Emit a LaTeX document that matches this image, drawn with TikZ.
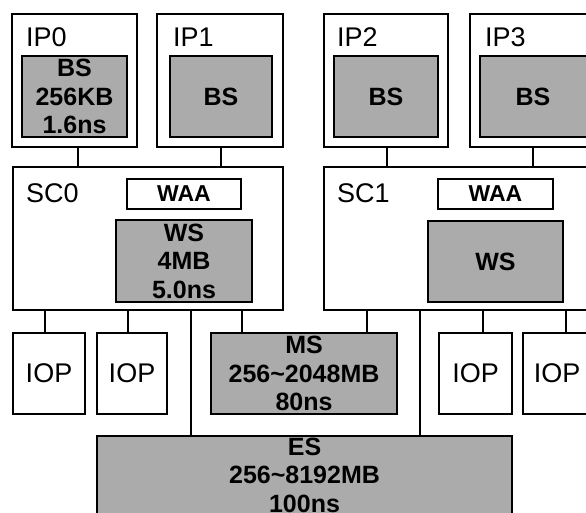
\documentclass[tikz,border=0pt]{standalone}
\usepackage{fontspec}
\setmainfont{Liberation Sans}
\newcommand{\boxat}[6]{\node[#1, minimum width={#5pt-#3pt}, minimum height={#6pt-#4pt}] (#2) at ({(#3+#5)/2},{(#4+#6)/2}) {};}
\begin{document}
\begin{tikzpicture}[x=1pt,y=-1pt,
  frame/.style={draw, line width=2.8pt, fill=white, inner sep=0pt},
  mem/.style={draw, line width=2.8pt, fill=black!33, inner sep=0pt},
  memtext/.style={align=center, inner sep=0pt, font=\fontsize{25}{28.5}\selectfont\bfseries},
  waatext/.style={inner sep=0pt, font=\fontsize{23}{26}\selectfont\bfseries},
  link/.style={line width=2.2pt},
  lbl/.style={font=\fontsize{27}{30}\selectfont, anchor=base west, inner sep=0pt},
  ioptext/.style={font=\fontsize{27}{30}\selectfont, inner sep=0pt}]
\useasboundingbox (0,0) rectangle (586,513);
\clip (0,0) rectangle (586,513);
% processors
\boxat{frame}{IP0}{12}{14}{137}{147}
\boxat{mem}{BS0}{22}{56}{127}{137}
\boxat{frame}{IP1}{157}{14}{283}{147}
\boxat{mem}{BS1}{170}{56}{272}{137}
\boxat{frame}{IP2}{324}{14}{448}{147}
\boxat{mem}{BS2}{334}{56}{438}{137}
\boxat{frame}{IP3}{470}{14}{600}{147}
\boxat{mem}{BS3}{480}{56}{592}{137}
\node[lbl] (tIP0) at (26,47) {IP0};
\node[lbl] (tIP1) at (173,47) {IP1};
\node[lbl] (tIP2) at (337,47) {IP2};
\node[lbl] (tIP3) at (485,47) {IP3};
\node[memtext] (tBS0) at (BS0.center) {BS\\256KB\\1.6ns};
\node[memtext] (tBS1) at (BS1.center) {BS};
\node[memtext] (tBS2) at (BS2.center) {BS};
\node[memtext] (tBS3) at (533,96.5) {BS};
% system controllers
\boxat{frame}{SC0}{13}{167}{283}{310}
\boxat{frame}{WAA0}{127}{179}{241}{209}
\boxat{mem}{WS0}{116}{220}{252}{302}
\boxat{frame}{SC1}{324}{167}{600}{310}
\boxat{frame}{WAA1}{438}{179}{553}{209}
\boxat{mem}{WS1}{428}{221}{563}{302}
\node[lbl] (tSC0) at (26,203) {SC0};
\node[lbl] (tSC1) at (337,203) {SC1};
\node[waatext] (tWAA0) at (WAA0.center) {WAA};
\node[waatext] (tWAA1) at (WAA1.center) {WAA};
\node[memtext] (tWS0) at (WS0.center) {WS\\4MB\\5.0ns};
\node[memtext] (tWS1) at (WS1.center) {WS};
% lower level
\boxat{frame}{IOP1}{13}{333}{85}{414}
\boxat{frame}{IOP2}{97}{333}{167}{414}
\boxat{mem}{MS}{211}{333}{397}{414}
\boxat{frame}{IOP3}{439}{333}{512}{414}
\boxat{frame}{IOP4}{523}{333}{600}{414}
\boxat{mem}{ES}{97}{436}{512}{518}
\node[ioptext] (tIOP1) at (IOP1.center) {IOP};
\node[ioptext] (tIOP2) at (IOP2.center) {IOP};
\node[ioptext] (tIOP3) at (IOP3.center) {IOP};
\node[ioptext] (tIOP4) at (557,373.5) {IOP};
\node[memtext] (tMS) at (MS.center) {MS\\256\textasciitilde2048MB\\80ns};
\node[memtext] (tES) at (304.5,475) {ES\\256\textasciitilde8192MB\\100ns};
% connector x positions
\coordinate (x78) at (78,0);
\coordinate (x221) at (221,0);
\coordinate (x387) at (387,0);
\coordinate (x533) at (533,0);
\coordinate (x45) at (45,0);
\coordinate (x128) at (128,0);
\coordinate (x191) at (191,0);
\coordinate (x242) at (242,0);
\coordinate (x367) at (367,0);
\coordinate (x420) at (420,0);
\coordinate (x483) at (483,0);
\coordinate (x566) at (566,0);
\draw[link] (IP0.south -| x78) -- (SC0.north -| x78);
\draw[link] (IP1.south -| x221) -- (SC0.north -| x221);
\draw[link] (IP2.south -| x387) -- (SC1.north -| x387);
\draw[link] (IP3.south -| x533) -- (SC1.north -| x533);
\draw[link] (SC0.south -| x45) -- (IOP1.north -| x45);
\draw[link] (SC0.south -| x128) -- (IOP2.north -| x128);
\draw[link] (SC0.south -| x191) -- (ES.north -| x191);
\draw[link] (SC0.south -| x242) -- (MS.north -| x242);
\draw[link] (SC1.south -| x367) -- (MS.north -| x367);
\draw[link] (SC1.south -| x420) -- (ES.north -| x420);
\draw[link] (SC1.south -| x483) -- (IOP3.north -| x483);
\draw[link] (SC1.south -| x566) -- (IOP4.north -| x566);
\end{tikzpicture}
\end{document}
